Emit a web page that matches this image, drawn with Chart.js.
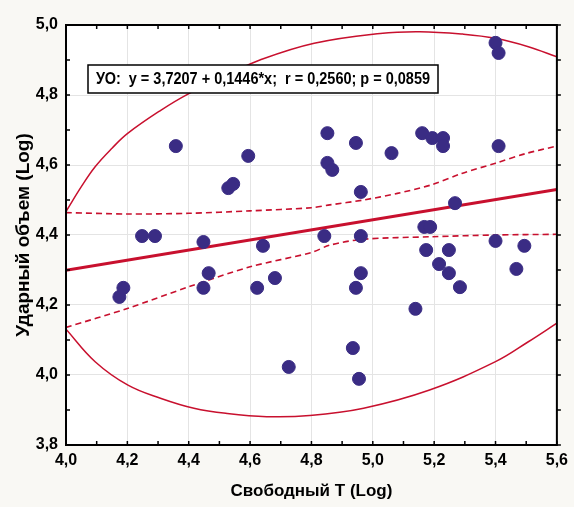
<!DOCTYPE html>
<html>
<head>
<meta charset="utf-8">
<script src="https://cdn.jsdelivr.net/npm/chart.js@4.4.1/dist/chart.umd.min.js"></script>
<style>
  html, body { margin: 0; padding: 0; background: #f9f8f4; }
  #wrap { width: 574px; height: 507px; }
</style>
</head>
<body>
<div id="wrap"><canvas id="c" width="574" height="507"></canvas></div>
<script>
// observations: free T (log) vs stroke volume (log)
const freeT = [4.174, 4.187, 4.248, 4.290, 4.358, 4.448, 4.448, 4.465, 4.529, 4.545,
    4.594, 4.623, 4.642, 4.681, 4.726, 4.842, 4.852, 4.852, 4.868, 4.935,
    4.945, 4.945, 4.955, 4.961, 4.961, 4.961, 5.061, 5.139, 5.161, 5.168,
    5.174, 5.187, 5.194, 5.216, 5.229, 5.229, 5.248, 5.248, 5.268, 5.284,
    5.400, 5.410, 5.410, 5.400, 5.468, 5.494];
const strokeVol = [4.223, 4.249, 4.397, 4.397, 4.654, 4.380, 4.249, 4.291, 4.534, 4.546,
    4.626, 4.249, 4.369, 4.277, 4.023, 4.397, 4.691, 4.606, 4.586, 4.077,
    4.249, 4.663, 3.989, 4.523, 4.397, 4.291, 4.634, 4.189, 4.691, 4.423,
    4.357, 4.423, 4.677, 4.317, 4.677, 4.654, 4.357, 4.291, 4.491, 4.251,
    4.949, 4.920, 4.654, 4.383, 4.303, 4.369];

// fitted line  y = 3,7207 + 0,1446*x
const fitX = [4.0, 5.6];
const fitY = [4.299, 4.530];

// 95% confidence band (dashed)
const bandUpX = [4.0, 4.2, 4.4, 4.6, 4.8, 4.86, 4.97, 5.08, 5.19, 5.29, 5.4, 5.5, 5.6];
const bandUpY = [4.464, 4.460, 4.462, 4.469, 4.478, 4.486, 4.500, 4.519, 4.543, 4.576, 4.605, 4.633, 4.654];
const bandLoX = [4.0, 4.2, 4.4, 4.6, 4.8, 4.86, 4.97, 5.19, 5.4, 5.6];
const bandLoY = [4.136, 4.190, 4.252, 4.309, 4.350, 4.371, 4.388, 4.395, 4.400, 4.402];

// prediction ellipse, visible part
const ellUpX = [4.0, 4.05, 4.095, 4.15, 4.202, 4.31, 4.396, 4.525, 4.632, 4.809, 5.024, 5.153, 5.293, 5.4, 5.507, 5.6];
const ellUpY = [4.467, 4.538, 4.595, 4.648, 4.691, 4.757, 4.802, 4.857, 4.900, 4.948, 4.976, 4.981, 4.974, 4.962, 4.938, 4.909];
const ellLoX = [4.0, 4.095, 4.202, 4.31, 4.417, 4.525, 4.654, 4.794, 4.97, 5.185, 5.4, 5.507, 5.6];
const ellLoY = [4.131, 4.038, 3.971, 3.933, 3.905, 3.890, 3.881, 3.884, 3.905, 3.957, 4.038, 4.095, 4.148];

const xTickLabels = ['4,0', '4,2', '4,4', '4,6', '4,8', '5,0', '5,2', '5,4', '5,6'];
const yTickLabels = ['3,8', '4,0', '4,2', '4,4', '4,6', '4,8', '5,0'];

const RED = '#c8102e';
const DOT = '#3a2c84';
const FONT = "'Liberation Sans', Arial, sans-serif";

const pts = (xs, ys) => xs.map((x, i) => ({ x, y: ys[i] }));
const isMajor = v => Math.round(v * 10) % 2 === 0;

function curve(xs, ys, dash, width, smooth) {
    return {
        data: pts(xs, ys),
        showLine: true,
        borderColor: RED,
        borderWidth: width,
        borderDash: dash,
        pointRadius: 0,
        tension: smooth,
    };
}

const frame = {
    id: 'frame',
    beforeDraw(chart) {
        const { ctx, chartArea: a } = chart;
        ctx.save();
        ctx.fillStyle = '#f9f8f4';
        ctx.fillRect(0, 0, chart.width, chart.height);
        ctx.fillStyle = '#ffffff';
        ctx.fillRect(a.left, a.top, a.right - a.left, a.bottom - a.top);
        ctx.restore();
    },
    afterDraw(chart) {
        const { ctx, chartArea: a, scales } = chart;
        ctx.save();
        ctx.strokeStyle = '#000';
        ctx.lineWidth = 2;
        ctx.strokeRect(a.left, a.top, a.right - a.left, a.bottom - a.top);
        ctx.lineWidth = 1.5;
        ctx.beginPath();
        scales.x.ticks.forEach(t => {
            const px = scales.x.getPixelForValue(t.value);
            ctx.moveTo(px, a.bottom); ctx.lineTo(px, a.bottom - 4);
            ctx.moveTo(px, a.top); ctx.lineTo(px, a.top + 4);
        });
        scales.y.ticks.forEach(t => {
            const py = scales.y.getPixelForValue(t.value);
            ctx.moveTo(a.left, py); ctx.lineTo(a.left + 4, py);
            ctx.moveTo(a.right, py); ctx.lineTo(a.right + 4, py);
        });
        ctx.stroke();
        ctx.restore();
    },
};

// equation label, condensed to the width of the original box
const eqBox = {
    id: 'eqBox',
    afterDatasetsDraw(chart) {
        const { ctx, chartArea: a } = chart;
        const x = a.left + 22, y = a.top + 40, w = 350, h = 28;
        const text = 'УО:  y = 3,7207 + 0,1446*x;  r = 0,2560; p = 0,0859';
        ctx.save();
        ctx.fillStyle = '#fff';
        ctx.fillRect(x, y, w, h);
        ctx.strokeStyle = '#000';
        ctx.lineWidth = 1.5;
        ctx.strokeRect(x, y, w, h);
        ctx.fillStyle = '#000';
        ctx.font = 'bold 16px ' + FONT;
        ctx.textBaseline = 'middle';
        const tw = ctx.measureText(text).width;
        const k = Math.min(1, (w - 16) / tw);
        ctx.translate(x + 8, y + h / 2 + 1);
        ctx.scale(k, 1);
        ctx.fillText(text, 0, 0);
        ctx.restore();
    },
};

new Chart(document.getElementById('c'), {
    type: 'scatter',
    data: {
        datasets: [
            {
                data: pts(freeT, strokeVol),
                backgroundColor: DOT,
                borderColor: DOT,
                pointRadius: 6.5,
                pointHoverRadius: 6.5,
            },
            curve(fitX, fitY, [], 3, 0),
            curve(bandUpX, bandUpY, [6, 4], 1.6, 0.3),
            curve(bandLoX, bandLoY, [6, 4], 1.6, 0.3),
            curve(ellUpX, ellUpY, [], 1.5, 0.4),
            curve(ellLoX, ellLoY, [], 1.5, 0.4),
        ],
    },
    options: {
        responsive: false,
        animation: false,
        events: [],
        layout: { padding: { top: 25, right: 12, left: 0, bottom: 0 } },
        plugins: { legend: { display: false }, tooltip: { enabled: false } },
        scales: {
            x: {
                type: 'linear',
                min: 4.0,
                max: 5.6,
                afterFit: s => { s.height = 62; },
                ticks: {
                    stepSize: 0.1,
                    autoSkip: false,
                    maxRotation: 0,
                    padding: 6,
                    color: '#000',
                    font: { family: FONT, size: 16, weight: 'bold' },
                    callback: v => isMajor(v) ? xTickLabels[Math.round((v - 4.0) * 5)] : '',
                },
                grid: {
                    drawTicks: false,
                    color: c => (c.tick && isMajor(c.tick.value)) ? '#e4e4e4' : 'rgba(0,0,0,0)',
                },
                border: { display: false },
                title: {
                    display: true,
                    text: 'Свободный T (Log)',
                    color: '#000',
                    font: { family: FONT, size: 17, weight: 'bold' },
                    padding: { top: 0, bottom: 5 },
                },
            },
            y: {
                type: 'linear',
                min: 3.8,
                max: 5.0,
                afterFit: s => { s.width = 66; },
                ticks: {
                    stepSize: 0.1,
                    autoSkip: false,
                    padding: 8,
                    color: '#000',
                    font: { family: FONT, size: 16, weight: 'bold' },
                    callback: v => isMajor(v) ? yTickLabels[Math.round((v - 3.8) * 5)] : '',
                },
                grid: {
                    drawTicks: false,
                    color: c => (c.tick && isMajor(c.tick.value)) ? '#e4e4e4' : 'rgba(0,0,0,0)',
                },
                border: { display: false },
                title: {
                    display: true,
                    text: 'Ударный объем (Log)',
                    color: '#000',
                    font: { family: FONT, size: 19, weight: 'bold' },
                    padding: { top: 12, bottom: 0 },
                },
            },
        },
    },
    plugins: [frame, eqBox],
});
</script>
</body>
</html>
